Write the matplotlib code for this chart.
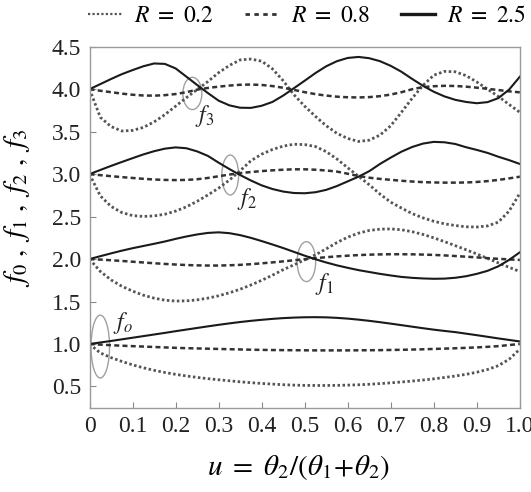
import matplotlib
matplotlib.use("Agg")
import matplotlib.pyplot as plt
from matplotlib.patches import Ellipse
from matplotlib.lines import Line2D

plt.rcParams['font.family'] = ['Liberation Serif', 'DejaVu Serif']
plt.rcParams['mathtext.fontset'] = 'stix'

u = [0.0, 0.025, 0.05, 0.075, 0.1, 0.125, 0.15, 0.175, 0.2, 0.225,
     0.25, 0.275, 0.3, 0.325, 0.35, 0.375, 0.4, 0.425, 0.45, 0.475,
     0.5, 0.525, 0.55, 0.575, 0.6, 0.625, 0.65, 0.675, 0.7, 0.725,
     0.75, 0.775, 0.8, 0.825, 0.85, 0.875, 0.9, 0.925, 0.95, 0.975, 1.0]

# f0
f0_r02 = [1.0, 0.895, 0.84, 0.795, 0.755, 0.72, 0.69, 0.665, 0.643, 0.624,
          0.607, 0.592, 0.579, 0.567, 0.555, 0.545, 0.536, 0.528, 0.521, 0.516,
          0.513, 0.512, 0.512, 0.513, 0.516, 0.52, 0.526, 0.534, 0.543, 0.553,
          0.564, 0.576, 0.59, 0.606, 0.623, 0.643, 0.668, 0.70, 0.745, 0.82, 0.94]
f0_r08 = [1.0, 0.993, 0.986, 0.98, 0.975, 0.97, 0.965, 0.96, 0.955, 0.951,
          0.948, 0.945, 0.942, 0.939, 0.936, 0.933, 0.931, 0.929, 0.928, 0.927,
          0.926, 0.925, 0.925, 0.925, 0.925, 0.926, 0.927, 0.928, 0.93, 0.932,
          0.935, 0.938, 0.942, 0.946, 0.95, 0.955, 0.96, 0.967, 0.975, 0.988, 1.0]
f0_r25 = [1.0, 1.018, 1.036, 1.055, 1.074, 1.093, 1.112, 1.131, 1.151, 1.17,
          1.189, 1.208, 1.226, 1.243, 1.259, 1.273, 1.285, 1.296, 1.305, 1.311,
          1.315, 1.316, 1.314, 1.308, 1.299, 1.287, 1.273, 1.257, 1.24, 1.222,
          1.204, 1.186, 1.169, 1.154, 1.14, 1.122, 1.104, 1.085, 1.066, 1.048, 1.03]
# f1
f1_r02 = [2.0, 1.855, 1.755, 1.68, 1.623, 1.575, 1.54, 1.516, 1.506, 1.508,
          1.52, 1.54, 1.568, 1.603, 1.645, 1.695, 1.75, 1.81, 1.875, 1.932,
          1.99, 2.05, 2.12, 2.195, 2.258, 2.305, 2.337, 2.352, 2.355, 2.345,
          2.322, 2.29, 2.25, 2.205, 2.158, 2.11, 2.06, 2.008, 1.955, 1.903, 1.853]
f1_r08 = [2.0, 1.994, 1.986, 1.978, 1.969, 1.96, 1.951, 1.943, 1.936, 1.93,
          1.926, 1.924, 1.924, 1.927, 1.932, 1.94, 1.95, 1.961, 1.973, 1.986,
          1.999, 2.011, 2.022, 2.032, 2.04, 2.047, 2.052, 2.055, 2.057, 2.057,
          2.056, 2.053, 2.049, 2.043, 2.036, 2.028, 2.02, 2.011, 2.003, 1.996, 1.99]
f1_r25 = [2.0, 2.034, 2.067, 2.099, 2.128, 2.154, 2.18, 2.207, 2.238, 2.266,
          2.29, 2.308, 2.315, 2.305, 2.282, 2.25, 2.212, 2.172, 2.13, 2.085,
          2.04, 1.998, 1.96, 1.926, 1.897, 1.87, 1.848, 1.826, 1.807, 1.79,
          1.779, 1.772, 1.768, 1.77, 1.78, 1.798, 1.826, 1.862, 1.915, 1.99, 2.08]
# f2
f2_r02 = [3.0, 2.745, 2.62, 2.548, 2.512, 2.502, 2.508, 2.528, 2.565, 2.615,
          2.68, 2.755, 2.835, 2.93, 3.04, 3.158, 3.235, 3.29, 3.33, 3.352,
          3.348, 3.325, 3.265, 3.178, 3.075, 2.975, 2.875, 2.765, 2.67, 2.6,
          2.535, 2.485, 2.445, 2.415, 2.395, 2.38, 2.378, 2.39, 2.435, 2.565, 2.775]
f2_r08 = [3.0, 2.988, 2.976, 2.965, 2.955, 2.945, 2.937, 2.932, 2.93, 2.932,
          2.94, 2.955, 2.975, 2.995, 3.012, 3.025, 3.036, 3.045, 3.052, 3.057,
          3.057, 3.052, 3.043, 3.03, 3.005, 2.978, 2.958, 2.944, 2.933, 2.922,
          2.913, 2.906, 2.902, 2.9, 2.9, 2.902, 2.908, 2.918, 2.932, 2.95, 2.97]
f2_r25 = [3.0, 3.049, 3.097, 3.143, 3.188, 3.232, 3.27, 3.3, 3.315, 3.305,
          3.268, 3.215, 3.135, 3.06, 2.99, 2.925, 2.868, 2.825, 2.795, 2.778,
          2.775, 2.787, 2.815, 2.86, 2.915, 2.97, 3.035, 3.12, 3.195, 3.265,
          3.32, 3.36, 3.38, 3.375, 3.355, 3.317, 3.285, 3.25, 3.205, 3.165, 3.12]
# f3
f3_r02 = [4.0, 3.67, 3.56, 3.508, 3.515, 3.55, 3.615, 3.7, 3.8, 3.9,
          3.995, 4.09, 4.195, 4.28, 4.345, 4.355, 4.33, 4.24, 4.1, 3.935,
          3.8, 3.68, 3.57, 3.48, 3.42, 3.385, 3.4, 3.46, 3.57, 3.73,
          3.895, 4.045, 4.165, 4.21, 4.205, 4.16, 4.085, 4.0, 3.915, 3.82, 3.728]
f3_r08 = [4.0, 3.982, 3.965, 3.948, 3.935, 3.926, 3.924, 3.93, 3.943, 3.965,
          3.995, 4.015, 4.03, 4.043, 4.052, 4.055, 4.05, 4.037, 4.017, 3.992,
          3.965, 3.942, 3.925, 3.912, 3.905, 3.903, 3.907, 3.918, 3.937, 3.965,
          4.0, 4.025, 4.035, 4.04, 4.038, 4.03, 4.018, 4.005, 3.99, 3.975, 3.963]
f3_r25 = [4.0, 4.06, 4.12, 4.177, 4.225, 4.27, 4.303, 4.298, 4.245, 4.148,
          4.05, 3.955, 3.865, 3.81, 3.782, 3.78, 3.805, 3.85, 3.925, 4.012,
          4.1, 4.19, 4.27, 4.33, 4.368, 4.38, 4.365, 4.33, 4.275, 4.205,
          4.12, 4.04, 3.97, 3.915, 3.875, 3.85, 3.835, 3.848, 3.895, 3.995, 4.147]

curves_r02 = [f0_r02, f1_r02, f2_r02, f3_r02]
curves_r08 = [f0_r08, f1_r08, f2_r08, f3_r08]
curves_r25 = [f0_r25, f1_r25, f2_r25, f3_r25]
legend_labels = [r'$R\ =\ 0.2$', r'$R\ =\ 0.8$', r'$R\ =\ 2.5$']

# mode labels and the ellipses drawn round the crossing points
mode_labels = [r'$f_o$', r'$f_1$', r'$f_2$', r'$f_3$']
label_pos = [(0.077, 1.25), (0.546, 1.71), (0.366, 2.71), (0.268, 3.68)]
ell_centre = [(0.025, 0.97), (0.504, 1.97), (0.327, 2.99), (0.239, 3.95)]
ell_size = [(0.043, 0.74), (0.043, 0.47), (0.039, 0.47), (0.044, 0.38)]

xticks = [0, 0.1, 0.2, 0.3, 0.4, 0.5, 0.6, 0.7, 0.8, 0.9, 1.0]
xticklabels = ['0', '0.1', '0.2', '0.3', '0.4', '0.5', '0.6', '0.7', '0.8', '0.9', '1.0']
yticks = [0.5, 1.0, 1.5, 2.0, 2.5, 3.0, 3.5, 4.0, 4.5]

dot_style = dict(color='#555555', lw=2.0, ls=(0, (0.9, 0.9)))
dash_style = dict(color='#333333', lw=1.8, ls=(0, (2.0, 1.3)))
solid_style = dict(color='#1a1a1a', lw=1.5, ls='-')

fig = plt.figure(figsize=(5.31, 4.92), dpi=100)
ax = fig.add_axes([0.1686, 0.1713, 0.8104, 0.7337])

for i in range(4):
    ax.plot(u, curves_r02[i], **dot_style)
    ax.plot(u, curves_r08[i], **dash_style)
    ax.plot(u, curves_r25[i], **solid_style)

for lab, tp, c, s in zip(mode_labels, label_pos, ell_centre, ell_size):
    ax.add_patch(Ellipse(c, s[0], s[1], fill=False, edgecolor='#a0a0a0', lw=1.0))
    ax.text(tp[0], tp[1], lab, fontsize=17, ha='center', va='center', color='#222222')

ax.set_xlim(0, 1.0)
ax.set_ylim(0.25, 4.5)
ax.set_xticks(xticks)
ax.set_xticklabels(xticklabels)
ax.set_yticks(yticks)
ax.set_yticklabels(['%.1f' % v for v in yticks])
ax.tick_params(direction='in', length=4, width=0.8, color='#888888',
               labelsize=17, labelcolor='#222222', pad=6)
for sp in ax.spines.values():
    sp.set_color('#9a9a9a')
    sp.set_linewidth(1.0)

fig.text(298 / 531, 1 - 468 / 492, r'$u\ =\ \theta_2/(\theta_1\!+\!\theta_2)$',
         fontsize=21, ha='center', va='center')
fig.text(17 / 531, 1 - 208 / 492, r'$f_0\ ,\ f_1\ ,\ f_2\ ,\ f_3$',
         fontsize=21, ha='center', va='center', rotation=90)

# legend handles
h1 = Line2D([], [], color='#555555', lw=1.6, ls=(0, (1, 1)))
h2 = Line2D([], [], color='#333333', lw=2.0, ls=(0, (1.6, 1.6)))
h3 = Line2D([], [], color='#1a1a1a', lw=2.4, ls='-')
fig.legend([h1, h2, h3], legend_labels,
           loc='center left', bbox_to_anchor=(88 / 531, 1 - 16 / 492), ncol=3,
           frameon=False, fontsize=17, handlelength=1.45, handletextpad=0.5,
           columnspacing=1.3, borderpad=0, borderaxespad=0)

fig.savefig('out.png', dpi=100)
